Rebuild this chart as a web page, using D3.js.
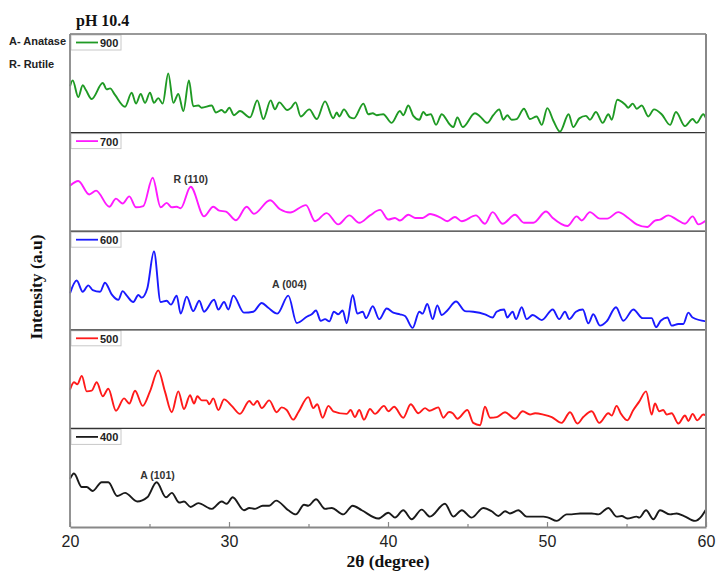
<!DOCTYPE html>
<html><head><meta charset="utf-8">
<script src="https://cdn.jsdelivr.net/npm/d3@7"></script>
<style>body{margin:0;background:#fff}svg{display:block}</style>
</head><body>
<svg id="c" width="716" height="573"></svg>
<script>
// ---- DATA (2θ in degrees, intensity in arbitrary units, 0-100 per panel) ----
const sampleNames = ["900", "700", "600", "500", "400"];
const sampleColors = ["#1f9a24", "#ff1aff", "#1a1aff", "#ff1a1a", "#1a1a1a"];
const xTickValues = [20, 30, 40, 50, 60];
const xMinorTicks = [25, 35, 45, 55];
const phaseNotes = ["A- Anatase", "R- Rutile"];
const titleText = "pH 10.4";

const s900 = [[20.0,47],[20.17,53],[20.52,35.7],[20.8,48],[21.0,43],[21.36,33.7],[22.06,50.3],[22.31,43.7],[22.52,44.7],[22.83,38],[23.46,25.7],[23.88,40.3],[24.15,29],[24.45,39],[24.72,29.7],[25.03,40.3],[25.28,29.7],[25.55,34.7],[25.83,29],[26.18,60.3],[26.5,29.7],[26.81,39],[27.13,21.3],[27.48,53],[27.75,26.3],[28.07,27],[28.28,24.7],[28.91,27],[29.18,19.7],[29.54,22.3],[29.75,19.7],[30.02,24.7],[30.31,17],[30.69,21.3],[31.32,14.7],[31.78,32.3],[32.16,13],[32.62,32.3],[32.89,23],[33.16,30.3],[33.67,22.3],[33.88,24.3],[34.19,30.3],[34.51,15.7],[35.05,23],[35.52,13],[36.04,31.3],[36.56,13.7],[36.77,19.7],[36.94,15.7],[37.23,23],[37.61,14.7],[37.86,13.7],[38.45,29],[38.76,18],[39.04,19],[39.29,17],[39.7,18],[40.23,9],[40.75,21.3],[40.96,17],[41.28,27],[41.59,16.3],[41.97,12.3],[42.22,20.3],[42.43,17],[42.69,18],[43.02,7],[43.38,18],[43.9,7],[44.11,4.7],[44.36,14.7],[44.7,4.7],[45.47,19],[45.79,15.7],[46.25,9],[46.62,17],[47.0,23],[47.25,12.3],[47.5,17],[47.78,12.3],[48.09,13],[48.55,23.7],[48.93,13],[49.35,15.7],[49.67,7],[50.02,24.3],[50.4,11.3],[50.82,0],[51.36,18],[51.65,4.7],[52.03,13.7],[52.45,16.3],[52.7,12.3],[53.08,20.3],[53.5,9],[53.86,18],[54.07,12.3],[54.42,33],[54.91,28],[55.11,24.7],[55.39,29],[55.64,23.7],[55.96,27],[56.37,15.7],[56.73,23],[57.21,18],[57.74,7],[58.11,20.3],[58.68,5.7],[59.16,13],[59.41,9],[59.83,18],[60.0,13.7]];

const s700 = [[20.0,46],[20.52,51],[21.21,37],[21.64,41],[22.47,24.3],[22.89,32.7],[23.31,27.7],[23.73,35],[24.15,23.7],[24.61,25],[25.2,54.3],[25.7,23.7],[26.08,28.3],[26.4,23.7],[26.71,24.3],[26.96,22.7],[27.59,45],[28.43,14.3],[29.01,24.3],[29.39,20.3],[29.81,19.3],[30.44,10.3],[31.11,24.3],[31.57,17],[32.58,31],[33.21,21.7],[33.84,18.3],[34.84,26],[35.41,9.3],[36.14,17.7],[36.87,6],[37.57,15.3],[38.19,7.7],[38.87,15.3],[39.5,21],[40.02,11],[40.44,12.7],[40.75,10],[41.28,16],[41.7,12.7],[42.18,12.7],[42.64,16.7],[43.27,13.3],[43.73,9.3],[44.21,13.7],[44.64,9.3],[45.53,15.3],[46.1,6.7],[46.58,18.7],[47.21,6.7],[47.99,16],[48.55,7.7],[49.14,7.7],[49.94,19.3],[50.36,12.7],[51.28,4.3],[51.87,14.3],[52.18,10],[52.7,18.7],[53.33,12],[53.79,12],[54.48,18.7],[55.11,12.7],[55.64,6],[56.31,3.3],[56.79,10],[57.11,11],[57.63,15.3],[58.16,11],[58.68,6.7],[59.16,14.3],[59.52,6],[60.0,10]];

const s600 = [[20.0,36.7],[20.42,50],[20.8,38.3],[21.15,45],[21.43,40],[21.89,38.3],[22.2,47.7],[22.62,35.7],[23.04,30],[23.31,39],[23.57,34.3],[23.98,27.7],[24.3,35],[24.51,32.3],[24.86,41.7],[25.28,80],[25.7,27.7],[26.08,29],[26.35,25],[26.71,34.3],[26.96,15.7],[27.34,33.3],[27.75,18.3],[28.13,29],[28.43,17.7],[29.06,30],[29.33,20],[29.69,27.7],[29.96,20],[30.27,34.3],[30.94,16.7],[31.53,17.7],[32.06,26.7],[32.47,21.7],[33.04,15.7],[33.73,34.3],[34.26,6],[34.92,12.7],[35.2,15],[35.47,19],[35.77,8.3],[36.04,10],[36.31,7.7],[36.6,17.7],[36.87,15],[37.15,19],[37.4,5.7],[37.78,35],[38.07,15.7],[38.41,17.7],[38.62,11],[39.04,23.3],[39.45,10],[39.92,21],[40.33,16.7],[40.75,15],[41.07,13.3],[41.55,1],[41.97,17.7],[42.18,15.7],[42.47,25.7],[42.81,10],[43.1,24.3],[43.38,14.3],[43.73,19],[44.28,28.3],[44.84,18.3],[45.36,17.7],[46.1,15],[46.58,11.7],[46.83,17.7],[47.3,20],[47.5,11.7],[47.84,17.7],[48.05,10],[48.41,22.3],[48.72,10],[49.1,14.3],[49.67,9],[50.36,20],[50.77,10],[51.13,17.7],[51.4,10],[51.82,17.7],[52.25,20],[52.6,5.7],[52.91,15],[53.33,3.3],[53.75,7.7],[54.34,22.3],[54.8,8.3],[55.43,20],[56.02,11],[56.58,11],[56.86,1.7],[57.15,8.3],[57.57,11.7],[57.84,3.3],[58.26,5],[58.57,5],[58.89,16.7],[59.16,11.7],[60.0,7.7]];

const s500 = [[20.0,39],[20.25,46.7],[20.46,44.7],[20.74,53.3],[21.05,37.3],[21.36,38],[21.68,46.7],[22.06,32.3],[22.41,40],[22.89,17.3],[23.4,30],[23.73,24.7],[24.09,38],[24.57,22.3],[25.03,37.3],[25.55,59],[25.97,37.3],[26.4,15.7],[26.81,37.3],[27.17,19],[27.55,33.3],[27.8,24.7],[28.01,32.3],[28.28,28],[28.6,28],[28.76,24],[29.01,30],[29.33,18],[29.69,29],[30.17,22.3],[30.69,14],[31.28,27.3],[31.53,23.3],[31.78,27.3],[32.06,20],[32.53,28],[33.0,15.7],[33.31,20.7],[33.63,18],[34.04,8],[34.36,15.7],[34.99,31.3],[35.3,20],[35.55,24],[35.89,10],[36.25,22.3],[36.56,16.7],[37.4,14],[37.65,18],[37.92,10.7],[38.19,18],[38.49,8],[38.87,19],[39.18,14],[39.75,22.3],[40.02,16.7],[40.38,21.3],[40.96,10],[41.43,24],[41.91,14.7],[42.33,20],[42.6,17.3],[43.16,20.7],[43.48,10],[43.84,16],[44.07,14.7],[44.36,9],[44.99,18],[45.36,4.7],[45.79,2.3],[46.1,21.3],[46.42,10],[46.84,10.7],[47.36,15.7],[47.99,9],[48.47,16.7],[48.93,13.3],[49.25,14.7],[49.77,13.3],[50.3,10.7],[50.92,4.7],[51.45,15.7],[51.91,4],[52.28,10.7],[52.81,16.7],[53.29,4.7],[53.86,14.7],[54.07,12.3],[54.38,22.3],[54.63,14.7],[55.05,7.3],[55.43,18],[55.8,26.7],[56.23,37.3],[56.58,13.3],[56.79,24.7],[57.06,16.7],[57.31,18],[57.53,13.3],[57.84,14.7],[58.26,4],[58.68,12.3],[58.89,6.7],[59.16,14],[59.45,7.3],[59.83,13.3],[60.0,12.3]];

const s400 = [[20.0,48.7],[20.25,54.3],[20.74,40.3],[21.05,40.3],[21.43,36.3],[21.99,45.3],[22.41,45.3],[22.97,31],[23.46,34.3],[24.23,25.3],[24.86,29.7],[25.45,45.3],[26.04,29.7],[26.4,34.3],[26.87,24.3],[27.17,25.3],[27.59,19.7],[28.07,23.7],[28.91,17.7],[29.54,25.3],[29.86,23],[30.23,29.7],[30.94,16.3],[31.28,18.7],[31.64,17.7],[32.12,21],[32.53,21],[32.96,26.3],[33.73,16.3],[34.21,12],[34.72,22],[34.99,21],[35.47,27.7],[36.04,17.7],[36.46,18.7],[37.19,12],[37.78,21],[38.35,16.3],[39.39,7.7],[40.02,13.7],[40.44,8.7],[40.96,16.3],[41.49,7],[42.12,17],[42.64,9.7],[43.58,23],[44.11,9.7],[44.64,16.3],[45.26,8.7],[45.99,18.7],[46.52,15.3],[46.94,10.3],[47.36,15.3],[47.67,13],[48.2,16.3],[48.72,9.7],[49.77,9.7],[50.08,8.7],[50.61,5.3],[51.24,12],[51.55,12],[52.08,13],[52.81,13],[53.23,12],[53.86,18.7],[54.38,9.7],[54.7,10.3],[55.05,7.7],[55.64,9.7],[55.8,8.7],[56.23,16.3],[56.69,7],[57.11,16.3],[57.74,12],[58.16,13],[58.62,10.3],[59.31,5.3],[59.73,10.3],[60.0,17]];

const seriesData = [s900, s700, s600, s500, s400];
// peak labels: [panel index, 2θ, intensity, text]
const peakLabels = [[1, 27.6, 49, "R (110)"], [2, 33.8, 42, "A (004)"], [4, 25.5, 49, "A (101)"]];

// ---- LAYOUT ----
const svg = d3.select("#c");
const L = 70, R = 706, T = 34, B = 527;
const nP = sampleNames.length;
const pH = (B - T) / nP;
const x = d3.scaleLinear().domain([20, 60]).range([L, R]);

sampleNames.forEach((name, i) => {
  const top = T + i * pH, bot = top + pH;
  const y = d3.scaleLinear().domain([0, 100]).range([bot - 1, top + 1]);
  const line = d3.line().x(d => x(d[0])).y(d => y(d[1])).curve(d3.curveMonotoneX);
  svg.append("path").datum(seriesData[i])
    .attr("d", line).attr("fill", "none")
    .attr("stroke", sampleColors[i]).attr("stroke-width", 1.9)
    .attr("stroke-linejoin", "round");
  const g = svg.append("g").attr("transform", `translate(${L + 1},${top + 1})`);
  g.append("rect").attr("width", 50).attr("height", 15)
    .attr("fill", "#fff").attr("stroke", "#c8c8c8").attr("stroke-width", 1);
  g.append("line").attr("x1", 5).attr("x2", 27).attr("y1", 7.5).attr("y2", 7.5)
    .attr("stroke", sampleColors[i]).attr("stroke-width", 1.8);
  g.append("text").attr("x", 29).attr("y", 12).text(name)
    .attr("font-family", "Arial, 'Liberation Sans', sans-serif")
    .attr("font-weight", "bold").attr("font-size", 11).attr("fill", "#222");
  if (i > 0) {
    svg.append("line").attr("x1", L).attr("x2", R).attr("y1", top).attr("y2", top)
      .attr("stroke", "#333").attr("stroke-width", 1.2);
  }
  peakLabels.filter(p => p[0] === i).forEach(p => {
    svg.append("text").attr("x", x(p[1])).attr("y", y(p[2]))
      .attr("text-anchor", "middle").text(p[3])
      .attr("font-family", "Arial, 'Liberation Sans', sans-serif")
      .attr("font-weight", "bold").attr("font-size", 10.5).attr("fill", "#333");
  });
});

// frame
svg.append("line").attr("x1", L).attr("x2", R).attr("y1", T).attr("y2", T)
  .attr("stroke", "#777").attr("stroke-width", 1.5);
svg.append("line").attr("x1", L).attr("x2", L).attr("y1", T).attr("y2", B)
  .attr("stroke", "#888").attr("stroke-width", 1.8);
svg.append("line").attr("x1", R).attr("x2", R).attr("y1", T).attr("y2", B)
  .attr("stroke", "#888").attr("stroke-width", 2);

// x axis
const ax = svg.append("g").attr("transform", `translate(0,${B})`)
  .call(d3.axisBottom(x).tickValues(xTickValues).tickFormat(d3.format("d"))
    .tickSizeInner(-5).tickSizeOuter(0).tickPadding(9));
ax.select(".domain").attr("stroke", "#888").attr("stroke-width", 1.8);
ax.selectAll(".tick line").attr("stroke", "#888").attr("stroke-width", 1.2);
ax.selectAll(".tick text").attr("font-family", "Arial, 'Liberation Sans', sans-serif")
  .attr("font-size", 16).attr("fill", "#222");
const axm = svg.append("g").attr("transform", `translate(0,${B})`)
  .call(d3.axisBottom(x).tickValues(xMinorTicks).tickFormat("").tickSizeInner(-3).tickSizeOuter(0));
axm.select(".domain").remove();
axm.selectAll(".tick line").attr("stroke", "#888").attr("stroke-width", 1.2);

// titles
svg.append("text").attr("x", 76).attr("y", 26).text(titleText)
  .attr("font-family", "'Liberation Serif', 'Times New Roman', serif")
  .attr("font-weight", "bold").attr("font-size", 16).attr("fill", "#111");
phaseNotes.forEach((t, i) => {
  svg.append("text").attr("x", 9).attr("y", 45 + i * 23).text(t)
    .attr("font-family", "Arial, 'Liberation Sans', sans-serif")
    .attr("font-weight", "bold").attr("font-size", 11).attr("fill", "#222");
});
svg.append("text").attr("transform", "translate(42,287) rotate(-90)")
  .attr("text-anchor", "middle").text("Intensity (a.u)")
  .attr("font-family", "'Liberation Serif', 'Times New Roman', serif")
  .attr("font-weight", "bold").attr("font-size", 17.5).attr("fill", "#111");
svg.append("text").attr("x", 388).attr("y", 567).attr("text-anchor", "middle")
  .text("2θ (degree)")
  .attr("font-family", "'Liberation Serif', 'Times New Roman', serif")
  .attr("font-weight", "bold").attr("font-size", 17.5).attr("fill", "#111");
</script>
</body></html>
